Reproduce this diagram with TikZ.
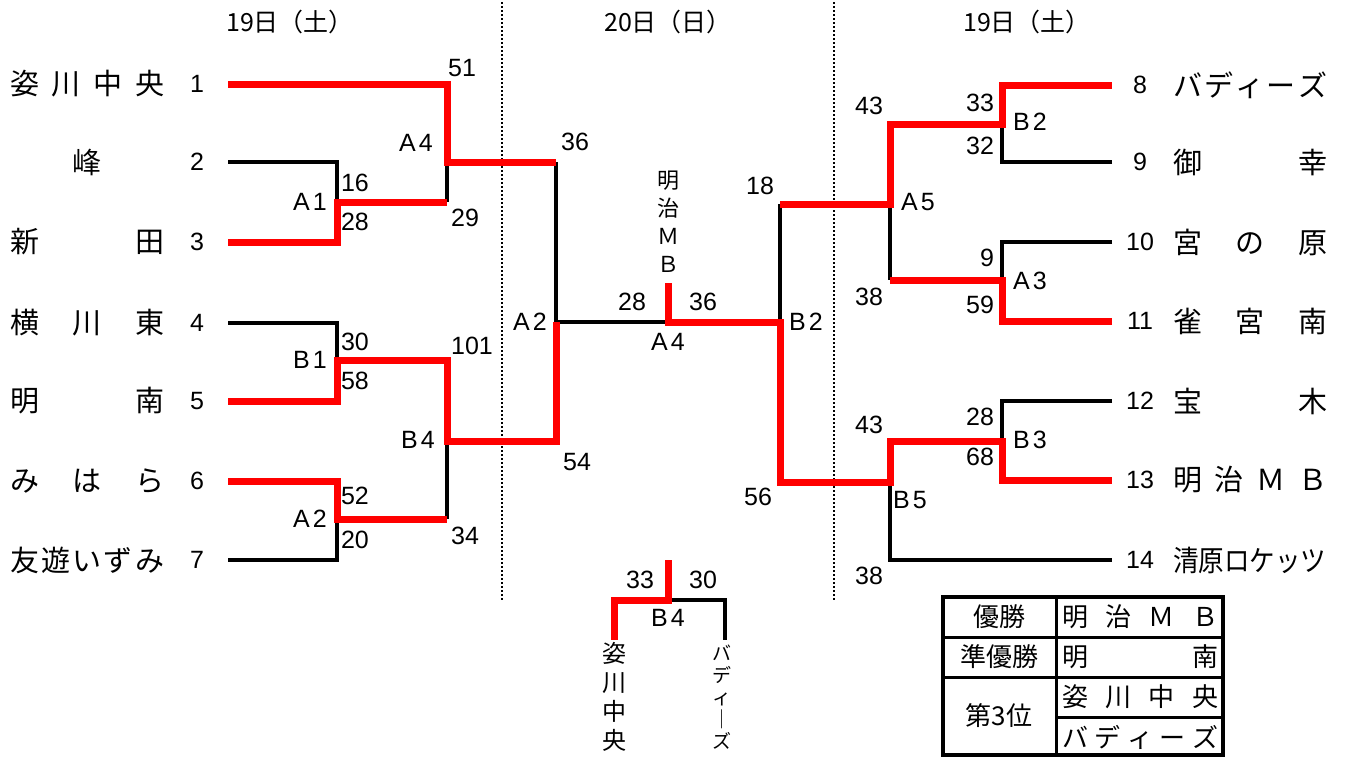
\documentclass[tikz,border=0pt]{standalone}
\usepackage{graphicx}
\usepackage{fontspec}
\setmainfont{Liberation Sans}
\newfontfamily\jp{Noto Sans CJK JP}
\newcommand\dst[1]{\makebox[154pt][s]{#1}}
\newcommand\tdst[1]{\makebox[156pt][s]{#1}}
\begin{document}
\begin{tikzpicture}[x=1pt,y=-1pt,
  redl/.style={draw=red,line width=7pt,line join=miter},
  blkl/.style={draw=black,line width=4pt,line join=miter},
  num/.style={font=\fontsize{25}{25}\selectfont,inner sep=0pt},
  teamname/.style={font=\jp\fontsize{29}{29}\selectfont,inner sep=0pt,anchor=west},
  hdr/.style={font=\jp\fontsize{25}{25}\selectfont,inner sep=0pt},
  dotl/.style={draw=black,line width=2pt,dash pattern=on 2pt off 2pt},
  tbl/.style={font=\jp\fontsize{26}{26}\selectfont,inner sep=0pt}]
\useasboundingbox (0,0) rectangle (1345,758);

% headers
\node[hdr] (h1) at (290,22) {19日（土）};
\node[hdr] (h2) at (668,22) {20日（日）};
\node[hdr] (h3) at (1027,22) {19日（土）};

% dotted separators
\coordinate (d1t) at (502,2); \coordinate (d1b) at (502,600);
\coordinate (d2t) at (834,2); \coordinate (d2b) at (834,600);
\draw[dotl] (d1t) -- (d1b);
\draw[dotl] (d2t) -- (d2b);

% left names
\node[teamname] (n1) at (10,84) {\dst{姿\hfill 川\hfill 中\hfill 央}};
\node[teamname] (n2) at (10,162) {\dst{\hfill 峰\hfill}};
\node[teamname] (n3) at (10,242) {\dst{新\hfill 田}};
\node[teamname] (n4) at (10,323) {\dst{横\hfill 川\hfill 東}};
\node[teamname] (n5) at (10,401) {\dst{明\hfill 南}};
\node[teamname] (n6) at (10,481) {\dst{み\hfill は\hfill ら}};
\node[teamname] (n7) at (10,560) {\dst{友\hfill 遊\hfill い\hfill ず\hfill み}};
\foreach \i/\y in {1/84,2/162,3/242,4/323,5/401,6/481,7/560}
  \node[num] (s\i) at (197,\y) {\i};

% right names
\foreach \i/\y in {8/85,9/162,10/242,11/321,12/401,13/480,14/560}
  \node[num] (s\i) at (1140,\y) {\i};
\node[teamname] (n8) at (1173,85) {\dst{バ\hfill デ\hfill ィ\hfill ー\hfill ズ}};
\node[teamname] (n9) at (1173,162) {\dst{御\hfill 幸}};
\node[teamname] (n10) at (1173,242) {\dst{宮\hfill の\hfill 原}};
\node[teamname] (n11) at (1173,321) {\dst{雀\hfill 宮\hfill 南}};
\node[teamname] (n12) at (1173,401) {\dst{宝\hfill 木}};
\node[teamname] (n13) at (1173,480) {\dst{明\hfill 治\hfill Ｍ\hfill Ｂ}};
\node[teamname] (n14) at (1173,560) {\scalebox{0.88}[1]{清原ロケッツ}};

% line start coordinates
\foreach \i/\y in {1/84,2/162,3/242,4/323,5/401,6/481,7/560}
  \coordinate (L\i) at (228,\y);
\foreach \i/\y in {8/85,9/162,10/242,11/321,12/401,13/480,14/560}
  \coordinate (R\i) at (1112,\y);

% ---- black lines ----
\draw[blkl] (L2) -- (337,162) -- (337,202);
\draw[blkl] (447,162) -- (447,202);
\draw[blkl] (556,162) -- (556,322) -- (668,322);
\draw[blkl] (L4) -- (337,323) -- (337,360);
\draw[blkl] (L7) -- (337,560) -- (337,519);
\draw[blkl] (447,441) -- (447,519);
\draw[blkl] (780,322) -- (780,204);
\draw[blkl] (R9) -- (1002,162) -- (1002,124);
\draw[blkl] (890,204) -- (890,280);
\draw[blkl] (R10) -- (1002,242) -- (1002,280);
\draw[blkl] (R12) -- (1002,401) -- (1002,441);
\draw[blkl] (890,482) -- (890,560) -- (R14);
\draw[blkl] (668,600) -- (725,600) -- (725,640);

% ---- red lines ----
\draw[redl] (L1) -- (447,84) -- (447,162) -- (556,162);
\draw[redl] (L3) -- (337,242) -- (337,202) -- (447,202);
\draw[redl] (L5) -- (337,401) -- (337,360) -- (447,360) -- (447,441) -- (556,441) -- (556,322);
\draw[redl] (L6) -- (337,481) -- (337,519) -- (447,519);
\draw[redl] (668,283) -- (668,322) -- (780,322) -- (780,482) -- (890,482) -- (890,441) -- (1002,441) -- (1002,480) -- (R13);
\draw[redl] (780,204) -- (890,204) -- (890,124) -- (1002,124) -- (1002,85) -- (R8);
\draw[redl] (890,280) -- (1002,280) -- (1002,321) -- (R11);
\draw[redl] (668,560) -- (668,600) -- (614,600) -- (614,640);

% ---- score / match labels ----
\foreach \t/\x/\y/\nm in {51/462/68/a,16/355/183/b,28/355/222/c,29/465/218/d,
  30/355/342/e,58/355/381/f,101/472/346/g,34/465/536/h,52/355/496/i,20/355/540/j,
  36/575/142/k,54/577/462/l,28/632/302/m,36/703/302/n,18/760/186/o,56/758/497/p,
  43/869/106/q,33/980/103/r,32/980/146/s,9/987/258/t,38/869/297/u,59/980/305/v,
  43/869/425/w,28/980/417/x,68/980/457/y,38/869/576/z,33/640/580/aa,30/703/580/ab}
  \node[num] (sc\nm) at (\x,\y) {\t};
\foreach \t/\u/\x/\y/\nm in {A/4/416/143/a,A/1/310/202/b,B/1/310/360/c,B/4/418/440/d,A/2/310/519/e,
  A/2/530/322/f,A/4/668/342/g,B/2/806/322/h,B/2/1030/122/i,A/5/918/202/j,A/3/1030/281/k,
  B/3/1030/440/l,B/5/910/500/m,B/4/668/618/n}
  \node[num] (m\nm) at (\x,\y) {\t\kern3pt\u};

% vertical texts
\node[font=\jp\fontsize{22}{28}\selectfont,align=center,inner sep=0pt] (mmb) at (668,222) {明\\治\\Ｍ\\Ｂ};
\node[font=\jp\fontsize{24}{29}\selectfont,align=center,inner sep=0pt] (v1) at (614,697) {姿\\川\\中\\央};
\node[font=\jp\fontsize{19}{22}\selectfont,align=center,inner sep=0pt] (v2) at (722,697) {バ\\デ\\ィ\\｜\\ズ};

% result table
\coordinate (t1) at (943,597); \coordinate (t2) at (1223,755);
\draw[line width=3pt] (1056,597) -- (1056,755);
\draw[line width=3pt] (943,637) -- (1223,637);
\draw[line width=3pt] (943,677) -- (1223,677);
\draw[line width=3pt] (1056,717) -- (1223,717);
\draw[line width=4.5pt] (t1) rectangle (t2);
\node[tbl] (c1) at (999,617) {優勝};
\node[tbl] (c2) at (999,657) {準優勝};
\node[tbl] (c3) at (999,716) {第3位};
\node[tbl,anchor=west] (c4) at (1062,617) {\tdst{明\hfill 治\hfill Ｍ\hfill Ｂ}};
\node[tbl,anchor=west] (c5) at (1062,657) {\tdst{明\hfill 南}};
\node[tbl,anchor=west] (c6) at (1062,697) {\tdst{姿\hfill 川\hfill 中\hfill 央}};
\node[tbl,anchor=west] (c7) at (1062,737) {\tdst{バ\hfill デ\hfill ィ\hfill ー\hfill ズ}};
\end{tikzpicture}
\end{document}
